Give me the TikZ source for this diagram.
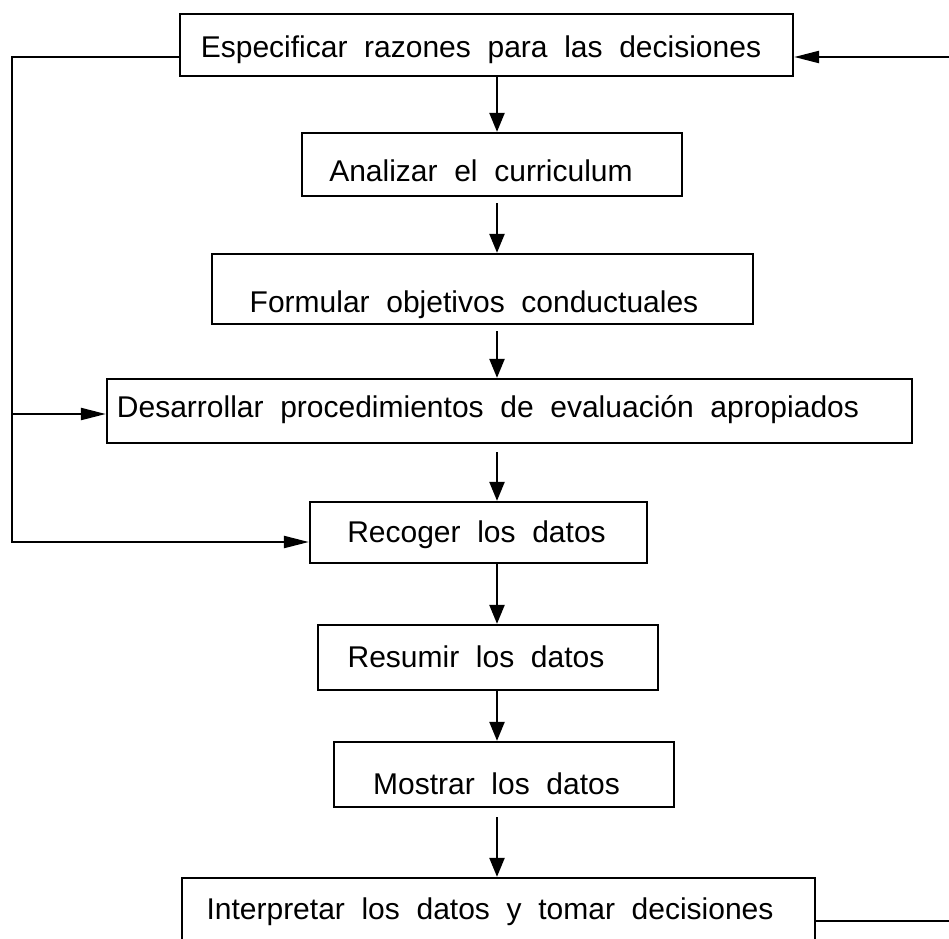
\documentclass[tikz,border=0pt]{standalone}
\usepackage{fontspec}
\setmainfont[WordSpace=2]{Liberation Sans}
\usetikzlibrary{arrows.meta}

\begin{document}
\begin{tikzpicture}[x=1pt, y=-1pt,
        stage/.style={draw, line width=2.3pt, inner sep=0pt,
            font=\fontsize{30}{36}\selectfont},
        flow/.style={line width=2.3pt, -{Triangle[length=19pt,width=15pt]}},
        back/.style={line width=2.3pt, -{Triangle[length=25pt,width=12pt]}}]
        \clip (0,0) rectangle (949,938);
        \node[stage, minimum width=613pt, text height=43pt, text depth=19pt] (razones) at (486.5,45) {Especificar razones para las decisiones\hspace*{11pt}};
        \node[stage, minimum width=380pt, text height=48pt, text depth=15pt] (curriculum) at (492,164.5) {Analizar el curriculum\hspace*{22pt}};
        \node[stage, minimum width=541pt, text height=58pt, text depth=12pt] (objetivos) at (482.5,289) {Formular objetivos conductuales\hspace*{17pt}};
        \node[stage, minimum width=805pt, text height=38pt, text depth=26pt] (procedimientos) at (509.5,411) {Desarrollar procedimientos de evaluación apropiados\hspace*{43pt}};
        \node[stage, minimum width=337pt, text height=40pt, text depth=21pt] (recoger) at (478.5,532.5) {Recoger los datos\hspace*{4pt}};
        \node[stage, minimum width=340pt, text height=42pt, text depth=23pt] (resumir) at (488,657.5) {Resumir los datos\hspace*{24pt}};
        \node[stage, minimum width=340pt, text height=52pt, text depth=13pt] (mostrar) at (504,774.5) {Mostrar los datos\hspace*{15pt}};
        \node[stage, minimum width=633pt, text height=41pt, text depth=41pt] (interpretar) at (498.5,919) {Interpretar los datos y tomar decisiones\hspace*{17pt}};

        \coordinate (eje) at (497,0);
        \coordinate (izq) at (12,0);
        \coordinate (der) at (949,57);
        \coordinate (medio) at (12,414);
        \coordinate (bajo) at (12,542);
        \coordinate (salida) at (949,921);

        \draw[flow] (razones.south -| eje) -- (curriculum.north -| eje);
        \draw[flow, shorten <=6pt] (curriculum.south -| eje) -- (objetivos.north -| eje);
        \draw[flow, shorten <=6pt] (objetivos.south -| eje) -- (procedimientos.north -| eje);
        \draw[flow, shorten <=8pt] (procedimientos.south -| eje) -- (recoger.north -| eje);
        \draw[flow] (recoger.south -| eje) -- (resumir.north -| eje);
        \draw[flow] (resumir.south -| eje) -- (mostrar.north -| eje);
        \draw[flow, shorten <=9pt] (mostrar.south -| eje) -- (interpretar.north -| eje);

        \draw[back] (der) -- (der -| razones.east);
        \draw[back] (der -| razones.west) -- (der -| izq) -- (bajo) -- (bajo -| recoger.west);
        \draw[back] (medio) -- (medio -| procedimientos.west);
        \draw[line width=2.3pt] (salida -| interpretar.east) -- (salida);
    \end{tikzpicture}
\end{document}
